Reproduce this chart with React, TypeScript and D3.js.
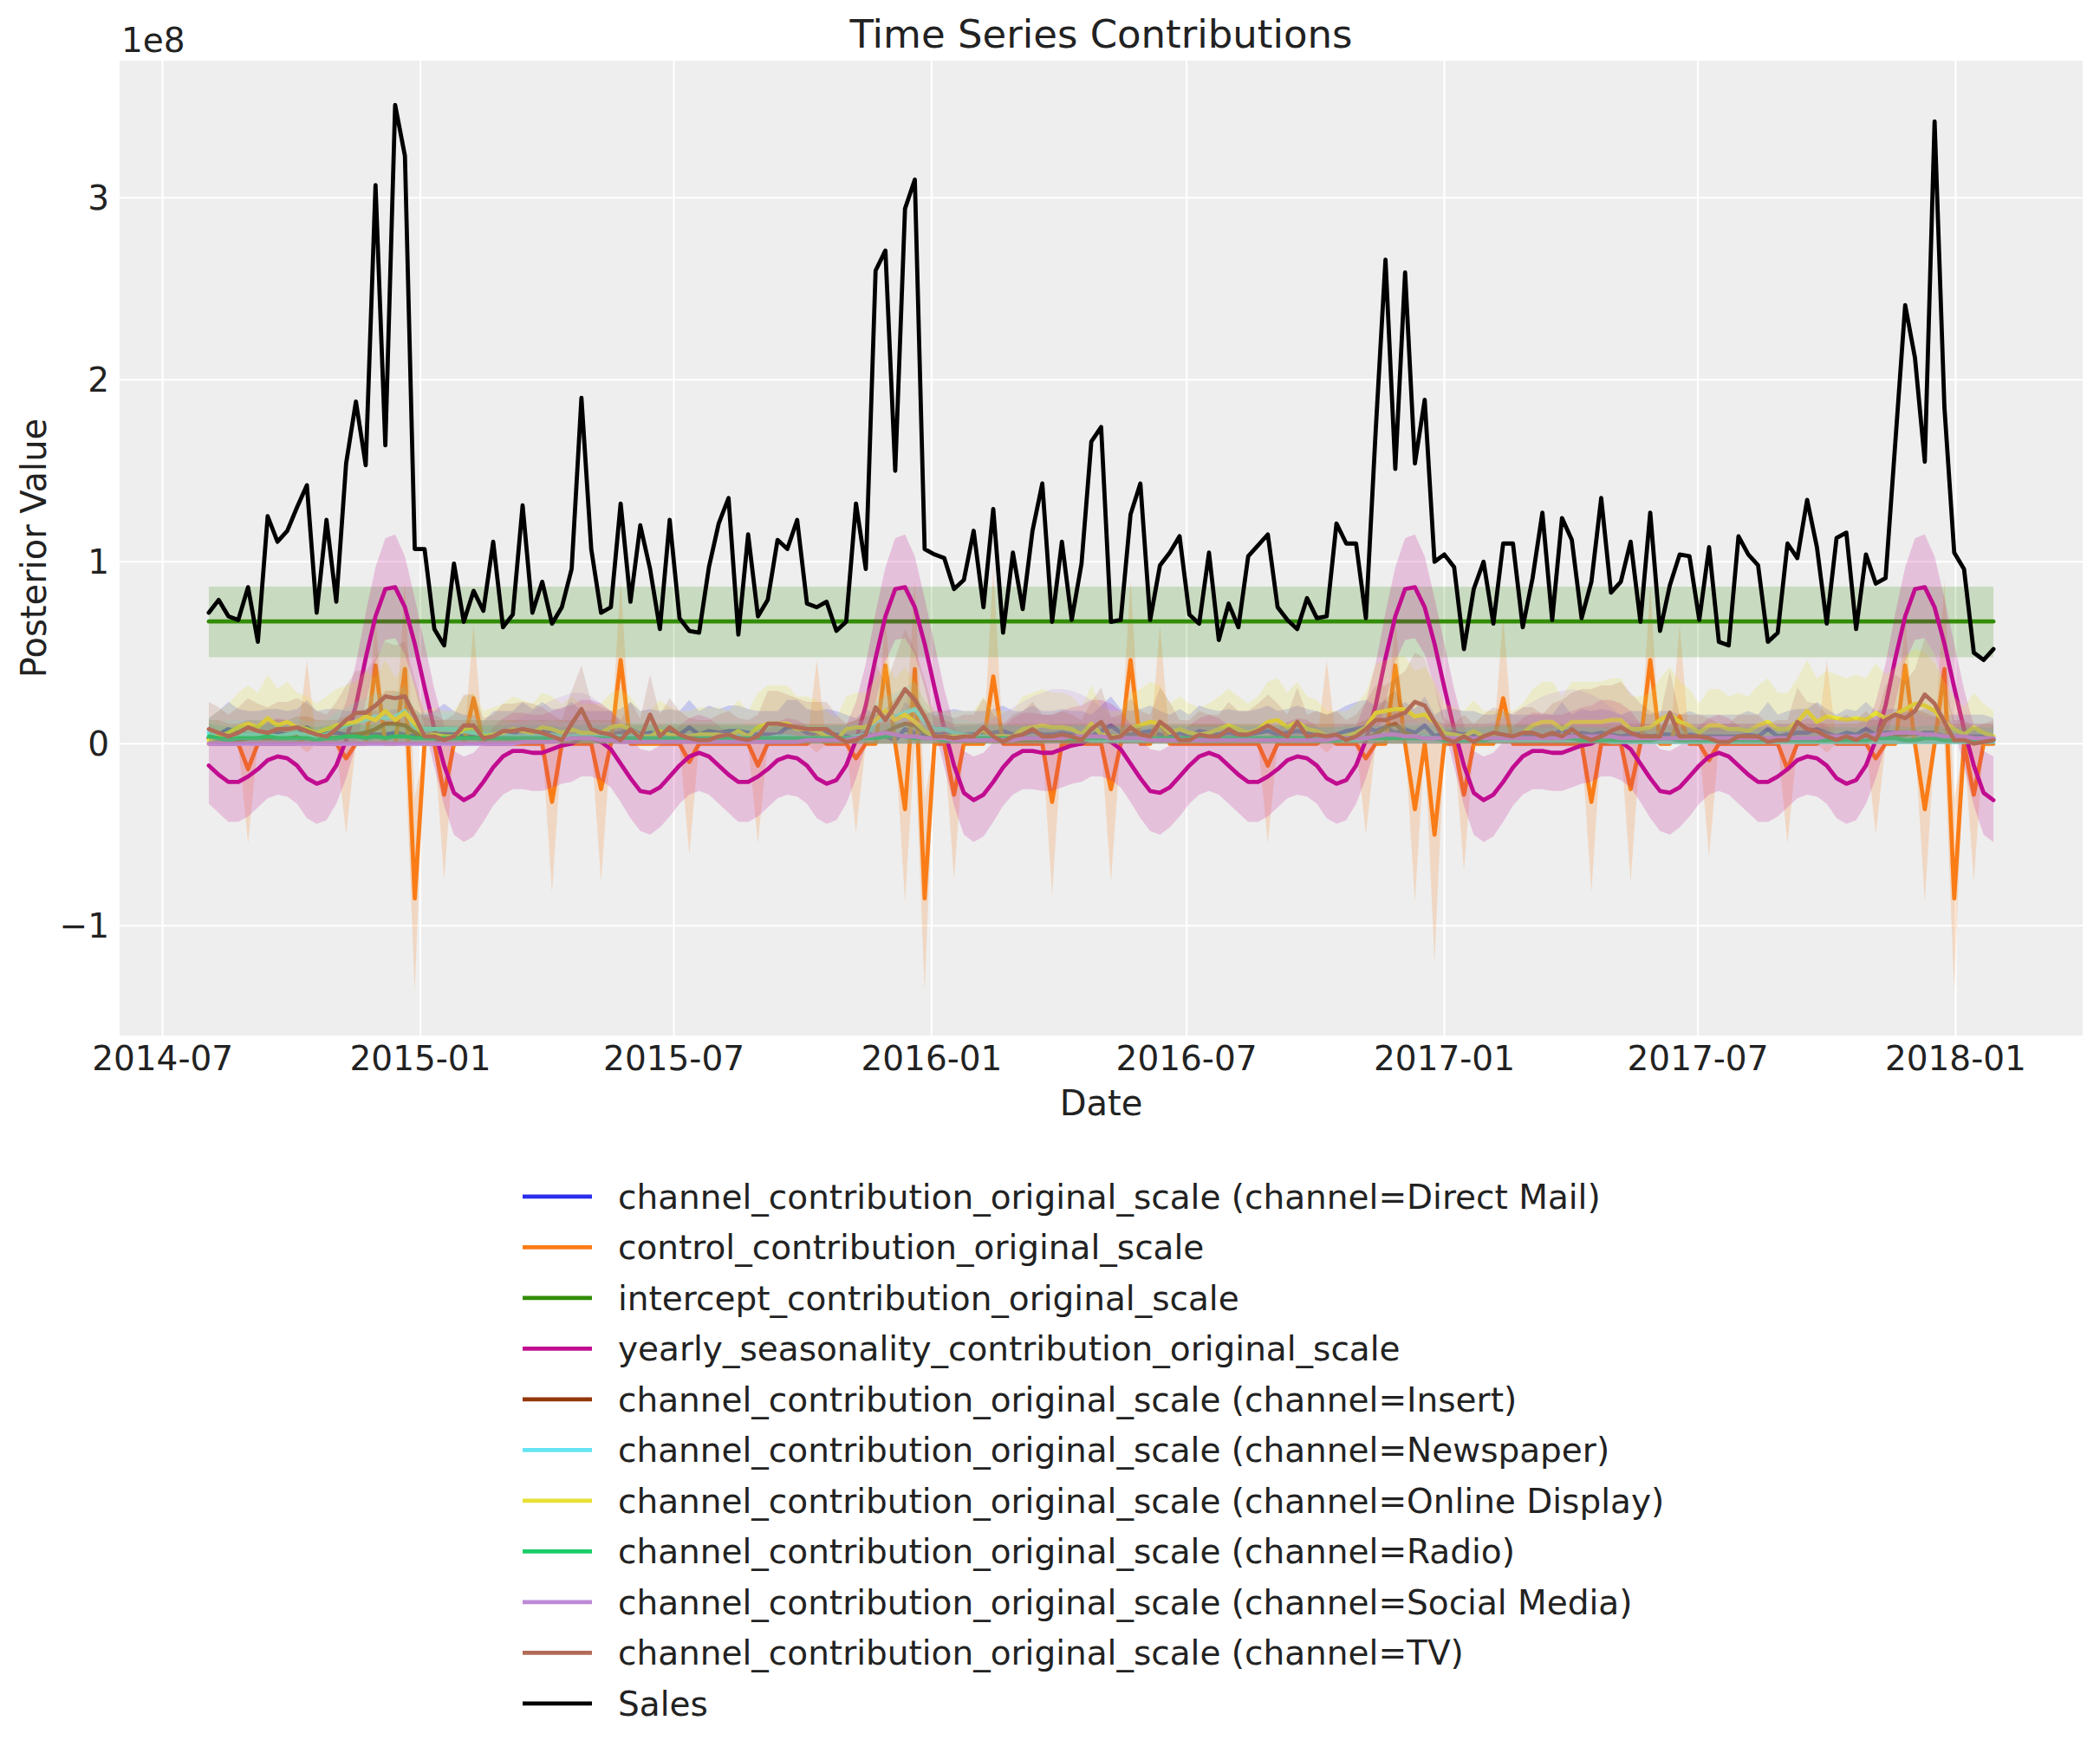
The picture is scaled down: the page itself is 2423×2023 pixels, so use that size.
import React from 'react';
import * as d3 from 'd3';

const WIDTH = 2423;
const HEIGHT = 2023;
const PLOT = { left: 138, right: 2403, top: 70, bottom: 1195 };

// weekly posterior means, all values in millions
const FIRST_WEEK = '2014-08-03';

const SALES = [
  72, 79, 70, 68, 86, 56, 125, 111, 117, 130,
  142, 72, 123, 78, 154, 188, 153, 307, 164, 351,
  323, 107, 107, 63, 54, 99, 67, 84, 73, 111,
  64, 71, 131, 72, 89, 66, 75, 96, 190, 107,
  72, 75, 132, 78, 120, 96, 63, 123, 69, 62,
  61, 97, 121, 135, 60, 115, 70, 79, 112, 107,
  123, 77, 75, 78, 62, 67, 132, 96, 260, 271,
  150, 294, 310, 107, 104, 102, 85, 90, 117, 75,
  129, 61, 105, 74, 117, 143, 67, 111, 68, 99,
  166, 174, 67, 68, 126, 143, 68, 98, 105, 114,
  71, 66, 105, 57, 77, 64, 103, 109, 115, 75,
  68, 63, 80, 69, 70, 121, 110, 110, 69, 172,
  266, 151, 259, 154, 189, 100, 104, 97, 52, 85,
  100, 66, 110, 110, 64, 91, 127, 68, 124, 112,
  69, 89, 135, 83, 89, 111, 67, 127, 62, 87,
  104, 103, 68, 108, 56, 54, 114, 104, 98, 56,
  61, 110, 102, 134, 108, 66, 113, 116, 63, 104,
  88, 91, 166, 241, 212, 155, 342, 185, 105, 96,
  50, 46, 52,
];

// hdi low, mean, hdi high
const INTERCEPT = [47.5, 67.2, 86.3];

const SEASONALITY = [
  -12, -17, -21, -21, -18, -14, -9, -7, -8, -12, -19, -22, -20, -12, 2, 21, 47, 70, 85, 86, 75, 55, 31, 8, -12, -27, -31, -28, -21, -13, -7, -4, -4, -5, -5, -3, -1, 0, 3, 3, 1, -3, -11, -19, -26, -27, -24, -18, -12, -7, -5, -7,
  -12, -17, -21, -21, -18, -14, -9, -7, -8, -12, -19, -22, -20, -12, 2, 21, 47, 70, 85, 86, 75, 55, 31, 8, -12, -27, -31, -28, -21, -13, -7, -4, -4, -5, -5, -3, -1, 0, 3, 3, 1, -3, -11, -19, -26, -27, -24, -18, -12, -7, -5, -7,
  -12, -17, -21, -21, -18, -14, -9, -7, -8, -12, -19, -22, -20, -12, 2, 21, 47, 70, 85, 86, 75, 55, 31, 8, -12, -27, -31, -28, -21, -13, -7, -4, -4, -5, -5, -3, -1, 0, 3, 3, 1, -3, -11, -19, -26, -27, -24, -18, -12, -7, -5, -7,
  -12, -17, -21, -21, -18, -14, -9, -7, -8, -12, -19, -22, -20, -12, 2, 21, 47, 70, 85, 86, 75, 55, 31, 8, -12, -27, -31,
];
const SEASONALITY_LO = [
  -33, -38, -43, -43, -40, -35, -30, -28, -29, -33, -41, -44, -42, -33, -19, -1, 23, 45, 57, 58, 49, 31, 9, -13, -34, -50, -54, -51, -43, -34, -28, -25, -25, -26, -26, -24, -22, -21, -18, -18, -20, -24, -32, -41, -48, -50, -46, -40, -33, -28, -26, -28,
  -33, -38, -43, -43, -40, -35, -30, -28, -29, -33, -41, -44, -42, -33, -19, -1, 23, 45, 57, 58, 49, 31, 9, -13, -34, -50, -54, -51, -43, -34, -28, -25, -25, -26, -26, -24, -22, -21, -18, -18, -20, -24, -32, -41, -48, -50, -46, -40, -33, -28, -26, -28,
  -33, -38, -43, -43, -40, -35, -30, -28, -29, -33, -41, -44, -42, -33, -19, -1, 23, 45, 57, 58, 49, 31, 9, -13, -34, -50, -54, -51, -43, -34, -28, -25, -25, -26, -26, -24, -22, -21, -18, -18, -20, -24, -32, -41, -48, -50, -46, -40, -33, -28, -26, -28,
  -33, -38, -43, -43, -40, -35, -30, -28, -29, -33, -41, -44, -42, -33, -19, -1, 23, 45, 57, 58, 49, 31, 9, -13, -34, -50, -54,
];
const SEASONALITY_HI = [
  10, 5, 1, 1, 4, 8, 12, 14, 13, 10, 3, 0, 2, 10, 23, 44, 72, 97, 113, 115, 103, 80, 55, 30, 10, -4, -7, -5, 1, 9, 14, 17, 17, 16, 16, 18, 20, 21, 24, 24, 22, 18, 11, 3, -3, -4, -1, 4, 10, 14, 16, 14,
  10, 5, 1, 1, 4, 8, 12, 14, 13, 10, 3, 0, 2, 10, 23, 44, 72, 97, 113, 115, 103, 80, 55, 30, 10, -4, -7, -5, 1, 9, 14, 17, 17, 16, 16, 18, 20, 21, 24, 24, 22, 18, 11, 3, -3, -4, -1, 4, 10, 14, 16, 14,
  10, 5, 1, 1, 4, 8, 12, 14, 13, 10, 3, 0, 2, 10, 23, 44, 72, 97, 113, 115, 103, 80, 55, 30, 10, -4, -7, -5, 1, 9, 14, 17, 17, 16, 16, 18, 20, 21, 24, 24, 22, 18, 11, 3, -3, -4, -1, 4, 10, 14, 16, 14,
  10, 5, 1, 1, 4, 8, 12, 14, 13, 10, 3, 0, 2, 10, 23, 44, 72, 97, 113, 115, 103, 80, 55, 30, 10, -4, -7,
];

// control (event) contribution: zero except in these weeks (index from FIRST_WEEK)
const CONTROL_WEEK = [
  4, 10, 14, 17, 20, 21, 24, 27, 35, 40, 42, 49,
  56, 62, 66, 69, 71, 72, 73, 76, 80, 86, 92, 94, 97, 108,
  114, 118, 121, 123, 125, 128, 132, 141, 145, 147, 150, 153,
  161, 165, 170, 173, 175, 177, 178, 180,
];
const CONTROL_MEAN = [
  -14, 4, -8, 43, 41, -85, -28, 25, -32, -25, 46, -10,
  -12, 4, -8, 43, -36, 41, -85, -28, 37, -32, -25, 46, 12, -12,
  4, -8, 43, -36, -50, -28, 25, -32, -25, 46, 15, -9,
  -14, 4, -8, 43, -36, 41, -85, -28,
];
const CONTROL_LO = [
  -55, -5, -50, 0, 0, -136, -75, 0, -82, -76, 0, -61,
  -55, -5, -49, 0, -87, 0, -136, -75, 0, -83, -76, 0, 0, -55,
  -5, -50, 0, -87, -120, -70, 0, -82, -76, 0, 0, -62,
  -55, -5, -50, 0, -87, 0, -136, -76,
];
const CONTROL_HI = [
  0, 46, 2, 70, 90, -30, 5, 65, 0, 0, 90, 0,
  0, 46, 2, 70, 0, 90, -30, 5, 96, 0, 0, 90, 65, 0,
  46, 2, 70, 0, 0, 5, 70, 0, 0, 86, 65, 0,
  0, 46, 2, 70, 0, 90, -30, 5,
];

// channel contributions (lower hdi edge sits on zero at this scale)
const DIRECT_MAIL = [
  3, 5, 8, 6, 5, 5, 6, 6, 5, 6, 9, 5, 6, 6, 5, 5, 6, 5, 5, 6, 5, 4, 4, 5, 5, 5, 4, 4, 2, 5, 5, 5, 8, 6, 8, 6, 6, 8, 5, 5, 5, 5, 6, 8, 5, 6, 5, 6, 5, 9, 5, 7,
  6, 7, 7, 6, 5, 5, 5, 9, 9, 6, 5, 6, 5, 4, 3, 6, 4, 4, 2, 8, 6, 4, 5, 5, 6, 5, 5, 5, 6, 7, 5, 5, 7, 5, 5, 6, 5, 5, 4, 7, 10, 6, 5, 6, 7, 5, 4, 6, 4, 7, 6, 5,
  6, 5, 5, 6, 7, 5, 6, 7, 6, 5, 4, 5, 7, 8, 9, 7, 9, 6, 8, 6, 10, 4, 6, 6, 5, 5, 4, 4, 5, 4, 4, 4, 4, 4, 8, 4, 6, 5, 6, 5, 4, 5, 5, 4, 5, 5, 4, 5, 4, 4, 4, 4,
  4, 5, 4, 8, 4, 5, 6, 6, 8, 6, 4, 6, 5, 8, 5, 6, 6, 6, 5, 6, 6, 4, 4, 4, 4, 4, 3,
];
const DIRECT_MAIL_HI = [
  14, 18, 23, 19, 18, 18, 19, 19, 18, 19, 24, 18, 19, 19, 18, 18, 19, 18, 18, 19, 18, 16, 16, 18, 22, 18, 16, 16, 12, 18, 18, 18, 23, 19, 23, 19, 19, 23, 18, 18, 18, 18, 19, 23, 18, 19, 18, 19, 18, 24, 18, 21,
  19, 21, 21, 19, 18, 18, 18, 24, 24, 19, 18, 19, 18, 16, 14, 19, 16, 16, 12, 23, 19, 16, 18, 18, 19, 18, 18, 18, 19, 21, 18, 18, 21, 18, 18, 19, 18, 18, 16, 21, 26, 19, 18, 19, 21, 18, 16, 19, 16, 21, 19, 18,
  19, 18, 18, 19, 21, 18, 19, 21, 19, 18, 16, 18, 21, 23, 24, 21, 24, 19, 23, 19, 26, 16, 19, 19, 18, 18, 16, 16, 18, 16, 16, 16, 16, 16, 23, 16, 19, 18, 19, 18, 16, 18, 18, 16, 18, 18, 16, 18, 16, 16, 16, 16,
  16, 18, 16, 23, 16, 18, 19, 19, 23, 19, 16, 19, 18, 23, 18, 19, 19, 19, 18, 19, 19, 16, 16, 16, 16, 16, 14,
];
const INSERT = [
  3, 3, 2, 2, 3, 3, 3, 3, 3, 4, 4, 3, 3, 3, 4, 5, 6, 8, 11, 11, 10, 6, 4, 3, 3, 3, 3, 3, 3, 3, 3, 3, 3, 3, 3, 3, 3, 3, 3, 3, 3, 3, 2, 2, 2, 2, 2, 2, 2, 2, 2, 2,
  2, 2, 2, 2, 2, 2, 2, 2, 2, 2, 2, 2, 2, 2, 3, 4, 5, 6, 9, 11, 10, 6, 4, 3, 2, 2, 2, 2, 2, 2, 2, 2, 2, 2, 2, 2, 2, 2, 2, 2, 2, 2, 2, 2, 2, 2, 2, 2, 2, 2, 2, 2,
  2, 2, 2, 2, 2, 2, 2, 2, 2, 2, 2, 2, 2, 2, 3, 5, 9, 11, 6, 4, 4, 3, 2, 2, 2, 2, 2, 2, 2, 2, 2, 2, 2, 2, 2, 2, 2, 2, 2, 2, 2, 2, 2, 2, 2, 2, 2, 2, 2, 2, 2, 2,
  2, 2, 2, 2, 2, 2, 2, 2, 2, 2, 2, 2, 2, 3, 3, 4, 5, 5, 6, 5, 4, 3, 2, 2, 2, 2, 2,
];
const INSERT_HI = [
  13, 13, 11, 11, 13, 13, 13, 13, 13, 15, 15, 13, 13, 13, 15, 17, 19, 23, 29, 29, 27, 19, 15, 13, 13, 13, 13, 13, 13, 13, 13, 13, 13, 13, 13, 13, 13, 13, 13, 13, 13, 13, 11, 11, 11, 11, 11, 11, 11, 11, 11, 11,
  11, 11, 11, 11, 11, 11, 11, 11, 11, 11, 11, 11, 11, 11, 13, 15, 17, 19, 25, 29, 27, 19, 15, 13, 11, 11, 11, 11, 11, 11, 11, 11, 11, 11, 11, 11, 11, 11, 11, 11, 11, 11, 11, 11, 11, 11, 11, 11, 11, 11, 11, 11,
  11, 11, 11, 11, 11, 11, 11, 11, 11, 11, 11, 11, 11, 11, 13, 17, 25, 29, 19, 15, 15, 13, 11, 11, 11, 11, 11, 11, 11, 11, 11, 11, 11, 11, 11, 11, 11, 11, 11, 11, 11, 11, 11, 11, 11, 11, 11, 11, 11, 11, 11, 11,
  11, 11, 11, 11, 11, 11, 11, 11, 11, 11, 11, 11, 11, 13, 13, 15, 17, 17, 19, 17, 15, 13, 11, 11, 11, 11, 11,
];
const NEWSPAPER = [
  6, 4, 5, 5, 5, 5, 5, 4, 5, 6, 4, 4, 5, 8, 10, 12, 13, 15, 14, 15, 18, 9, 8, 8, 8, 8, 7, 6, 5, 5, 5, 4, 4, 5, 4, 5, 4, 4, 5, 4, 4, 4, 4, 4, 4, 4, 3, 4, 4, 4, 4, 4,
  4, 4, 4, 3, 3, 3, 4, 4, 3, 3, 3, 3, 3, 3, 4, 5, 12, 14, 15, 17, 19, 12, 8, 8, 6, 5, 4, 4, 3, 3, 3, 3, 3, 3, 3, 3, 3, 3, 2, 2, 2, 2, 2, 2, 2, 2, 2, 2, 2, 2, 2, 2,
  2, 2, 2, 2, 2, 2, 2, 2, 2, 2, 2, 2, 2, 2, 3, 3, 3, 3, 4, 4, 4, 3, 2, 2, 2, 2, 2, 2, 2, 2, 2, 2, 2, 2, 2, 2, 2, 2, 2, 1, 1, 1, 1, 1, 1, 1, 1, 1, 1, 1, 1, 1,
  1, 1, 1, 1, 1, 1, 1, 1, 1, 1, 1, 1, 1, 1, 1, 1, 1, 1, 1, 1, 1, 1, 1, 1, 1, 1, 1,
];
const NEWSPAPER_HI = [
  14, 12, 13, 13, 13, 13, 13, 12, 13, 14, 12, 12, 13, 17, 20, 23, 25, 28, 26, 28, 32, 18, 17, 17, 17, 17, 15, 14, 13, 13, 13, 12, 12, 13, 12, 13, 12, 12, 13, 12, 12, 12, 12, 12, 12, 12, 10, 12, 12, 12, 12, 12,
  12, 12, 12, 10, 10, 10, 12, 12, 10, 10, 10, 10, 10, 10, 12, 13, 23, 26, 28, 31, 34, 23, 17, 17, 14, 13, 12, 12, 10, 10, 10, 10, 10, 10, 10, 10, 10, 10, 9, 9, 9, 9, 9, 9, 9, 9, 9, 9, 9, 9, 9, 9,
  9, 9, 9, 9, 9, 9, 9, 9, 9, 9, 9, 9, 9, 9, 10, 10, 10, 10, 12, 12, 12, 10, 9, 9, 9, 9, 9, 9, 9, 9, 9, 9, 9, 9, 9, 9, 9, 9, 9, 7, 7, 7, 7, 7, 7, 7, 7, 7, 7, 7, 7, 7,
  7, 7, 7, 7, 7, 7, 7, 7, 7, 7, 7, 7, 7, 7, 7, 7, 7, 7, 7, 7, 7, 7, 7, 7, 7, 7, 7,
];
const ONLINE_DISPLAY = [
  2, 4, 6, 9, 11, 9, 14, 10, 12, 9, 8, 6, 8, 10, 11, 12, 15, 13, 18, 13, 17, 11, 4, 5, 4, 4, 8, 9, 4, 5, 6, 8, 7, 6, 9, 8, 6, 8, 6, 6, 6, 9, 10, 8, 4, 4, 7, 5, 4, 4, 5, 5,
  5, 4, 7, 4, 9, 11, 11, 11, 8, 8, 7, 4, 2, 8, 9, 9, 13, 18, 13, 16, 12, 7, 4, 4, 4, 4, 4, 8, 4, 4, 4, 8, 9, 10, 9, 9, 8, 5, 11, 5, 4, 4, 9, 10, 12, 11, 6, 8, 6, 5, 6, 8,
  10, 8, 6, 8, 12, 13, 9, 12, 8, 7, 4, 4, 4, 6, 9, 17, 18, 19, 19, 15, 16, 12, 6, 5, 4, 7, 4, 4, 4, 4, 6, 10, 12, 12, 8, 12, 12, 12, 12, 13, 13, 8, 8, 9, 13, 16, 12, 10, 6, 10, 10, 8,
  8, 7, 10, 12, 8, 8, 12, 18, 12, 15, 14, 13, 14, 13, 17, 14, 16, 19, 22, 21, 18, 12, 8, 5, 9, 6, 4,
];
const ONLINE_DISPLAY_HI = [
  14, 18, 22, 28, 32, 28, 38, 30, 34, 28, 26, 22, 26, 30, 32, 34, 40, 36, 46, 36, 44, 32, 18, 20, 18, 18, 26, 28, 18, 20, 22, 26, 24, 22, 28, 26, 22, 26, 22, 22, 22, 28, 30, 26, 18, 18, 24, 20, 18, 18, 20, 20,
  20, 18, 24, 18, 28, 32, 32, 32, 26, 26, 24, 18, 14, 26, 28, 28, 36, 46, 36, 42, 34, 24, 18, 18, 18, 18, 18, 26, 18, 18, 18, 26, 28, 30, 28, 28, 26, 20, 32, 20, 18, 18, 28, 30, 34, 32, 22, 26, 22, 20, 22, 26,
  30, 26, 22, 26, 34, 36, 28, 34, 26, 24, 18, 18, 18, 22, 28, 44, 46, 48, 48, 40, 42, 34, 22, 20, 18, 24, 18, 18, 18, 18, 22, 30, 34, 34, 26, 34, 34, 34, 34, 36, 36, 26, 26, 28, 36, 42, 34, 30, 22, 30, 30, 26,
  28, 26, 32, 36, 28, 28, 36, 46, 36, 40, 38, 36, 38, 36, 44, 38, 42, 48, 52, 50, 44, 34, 26, 20, 28, 22, 18,
];
const RADIO = [
  4, 3, 2, 3, 3, 3, 4, 3, 3, 3, 3, 2, 3, 3, 4, 4, 3, 4, 3, 4, 4, 3, 3, 3, 3, 3, 3, 3, 3, 3, 3, 3, 3, 3, 3, 3, 2, 3, 3, 3, 3, 3, 3, 3, 3, 3, 3, 3, 3, 3, 3, 3,
  3, 3, 3, 3, 3, 3, 3, 3, 3, 3, 3, 3, 3, 3, 3, 3, 3, 4, 5, 4, 3, 3, 3, 2, 2, 3, 3, 3, 3, 3, 3, 3, 3, 3, 3, 3, 3, 3, 3, 3, 3, 3, 3, 3, 3, 3, 3, 3, 3, 3, 3, 3,
  3, 3, 3, 3, 3, 3, 3, 3, 3, 2, 2, 2, 3, 3, 3, 3, 3, 3, 3, 3, 3, 3, 2, 2, 2, 2, 2, 3, 3, 3, 3, 3, 3, 3, 3, 3, 2, 2, 2, 2, 2, 2, 2, 2, 3, 3, 2, 2, 2, 2, 2, 2,
  2, 2, 2, 2, 2, 2, 2, 2, 2, 2, 2, 2, 2, 2, 3, 3, 3, 2, 2, 3, 3, 2, 2, 2, 2, 2, 2,
];
const RADIO_HI = [
  11, 10, 9, 10, 10, 10, 11, 10, 10, 10, 10, 9, 10, 10, 11, 11, 10, 11, 10, 11, 11, 10, 10, 10, 10, 10, 10, 10, 10, 10, 10, 10, 10, 10, 10, 10, 9, 10, 10, 10, 10, 10, 10, 10, 10, 10, 10, 10, 10, 10, 10, 10,
  10, 10, 10, 10, 10, 10, 10, 10, 10, 10, 10, 10, 10, 10, 10, 10, 10, 11, 12, 11, 10, 10, 10, 9, 9, 10, 10, 10, 10, 10, 10, 10, 10, 10, 10, 10, 10, 10, 10, 10, 10, 10, 10, 10, 10, 10, 10, 10, 10, 10, 10, 10,
  10, 10, 10, 10, 10, 10, 10, 10, 10, 9, 9, 9, 10, 10, 10, 10, 10, 10, 10, 10, 10, 10, 9, 9, 9, 9, 9, 10, 10, 10, 10, 10, 10, 10, 10, 10, 9, 9, 9, 9, 9, 9, 9, 9, 10, 10, 9, 9, 9, 9, 9, 9,
  9, 9, 9, 9, 9, 9, 9, 9, 9, 9, 9, 9, 9, 9, 10, 10, 10, 9, 9, 10, 10, 9, 9, 9, 9, 9, 9,
];
const SOCIAL_MEDIA = [
  0, 0, 0, 0, 0, 0, 0, 0, 0, 0, 0, 0, 0, 0, 0, 0, 0, 0, 0, 0, 0, 0, 0, 0, 0, 0, 0, 0, 0, 0, 0, 0, 1, 1, 1, 1, 2, 3, 3, 3, 2, 2, 1, 1, 1, 1, 1, 1, 1, 1, 1, 1,
  1, 1, 1, 1, 1, 1, 1, 1, 1, 2, 2, 2, 2, 2, 3, 4, 5, 6, 5, 4, 4, 3, 3, 3, 2, 2, 2, 2, 2, 2, 2, 3, 3, 3, 3, 3, 4, 4, 4, 4, 3, 3, 3, 3, 2, 2, 2, 2, 2, 2, 2, 2,
  2, 2, 2, 2, 2, 2, 2, 2, 2, 2, 2, 3, 3, 3, 3, 4, 5, 5, 4, 4, 3, 3, 3, 3, 3, 3, 3, 3, 3, 3, 3, 3, 3, 3, 3, 4, 4, 4, 4, 4, 3, 3, 3, 3, 3, 3, 3, 3, 3, 3, 3, 3,
  3, 3, 3, 3, 3, 3, 3, 3, 3, 4, 4, 4, 4, 4, 5, 5, 6, 6, 6, 5, 5, 4, 4, 4, 3, 3, 3,
];
const SOCIAL_MEDIA_HI = [
  3, 3, 3, 3, 3, 3, 3, 3, 3, 3, 3, 3, 3, 3, 3, 3, 3, 3, 3, 3, 3, 3, 3, 3, 3, 3, 3, 3, 4, 6, 9, 12, 15, 18, 21, 24, 26, 28, 28, 26, 22, 18, 13, 9, 7, 6, 6, 6, 6, 6, 6, 6,
  7, 7, 7, 7, 7, 7, 7, 8, 8, 9, 9, 10, 10, 10, 12, 14, 16, 18, 16, 14, 13, 12, 12, 12, 10, 10, 10, 12, 14, 17, 20, 23, 26, 28, 30, 30, 29, 27, 24, 20, 16, 13, 11, 10, 9, 9, 9, 9, 9, 9, 9, 9,
  9, 9, 9, 9, 9, 9, 9, 9, 9, 9, 9, 11, 11, 11, 11, 13, 15, 15, 13, 13, 11, 11, 11, 11, 11, 11, 11, 12, 14, 17, 20, 23, 26, 28, 29, 30, 29, 27, 24, 20, 16, 13, 12, 11, 11, 11, 11, 11, 11, 11, 11, 11,
  11, 11, 11, 11, 11, 11, 11, 11, 11, 13, 13, 13, 13, 13, 15, 15, 17, 17, 17, 15, 15, 13, 13, 13, 11, 11, 11,
];
const TV = [
  8, 6, 4, 6, 9, 7, 6, 8, 8, 9, 7, 5, 4, 8, 13, 17, 17, 21, 26, 25, 26, 15, 4, 4, 2, 4, 10, 10, 3, 4, 7, 7, 8, 7, 6, 4, 2, 11, 19, 8, 6, 5, 2, 8, 3, 16, 4, 9, 5, 3, 2, 2,
  4, 5, 3, 2, 4, 11, 11, 10, 9, 8, 8, 8, 4, 1, 2, 5, 20, 13, 21, 30, 24, 15, 4, 4, 3, 4, 4, 9, 4, 1, 4, 5, 8, 4, 4, 5, 4, 2, 8, 12, 3, 4, 9, 5, 4, 12, 8, 2, 2, 5, 4, 4,
  8, 5, 5, 7, 10, 7, 4, 12, 4, 5, 4, 5, 2, 4, 8, 13, 13, 15, 17, 23, 21, 12, 3, 1, 4, 1, 4, 6, 5, 4, 6, 6, 4, 6, 4, 8, 4, 2, 4, 7, 9, 6, 4, 4, 4, 17, 4, 4, 4, 3, 1, 1,
  4, 4, 4, 1, 2, 2, 12, 8, 7, 4, 2, 4, 2, 5, 2, 13, 16, 14, 18, 27, 22, 12, 2, 2, 0, 1, 2,
];
const TV_HI = [
  23, 20, 16, 20, 25, 22, 20, 23, 23, 25, 22, 18, 16, 23, 32, 40, 40, 47, 56, 54, 56, 36, 16, 16, 13, 16, 27, 27, 14, 16, 22, 22, 23, 22, 20, 16, 13, 29, 43, 23, 20, 18, 13, 23, 14, 38, 16, 25, 18, 14, 13, 13,
  16, 18, 14, 13, 16, 29, 29, 27, 25, 23, 23, 23, 16, 11, 13, 18, 45, 32, 47, 63, 52, 36, 16, 16, 14, 16, 16, 25, 16, 11, 16, 18, 23, 16, 16, 18, 16, 13, 23, 31, 14, 16, 25, 18, 16, 31, 23, 13, 13, 18, 16, 16,
  23, 18, 18, 22, 27, 22, 16, 31, 16, 18, 16, 18, 13, 16, 23, 32, 32, 36, 40, 50, 47, 31, 14, 11, 16, 11, 16, 20, 18, 16, 20, 20, 16, 22, 24, 28, 30, 30, 32, 32, 34, 28, 22, 18, 16, 40, 16, 16, 16, 14, 11, 11,
  16, 16, 16, 11, 13, 13, 31, 23, 22, 16, 13, 16, 13, 18, 13, 32, 38, 34, 41, 58, 49, 31, 13, 13, 9, 11, 13,
];

const Y_TICKS = [-100, 0, 100, 200, 300];
const TEXT = '#222222';
const FONT = 'DejaVu Sans, sans-serif';
const LINE_W = 4.8;

export default function App() {
  const n = SALES.length;
  const start = d3.timeParse('%Y-%m-%d')(FIRST_WEEK) as Date;
  const weeks = d3.range(n).map((i) => d3.timeWeek.offset(start, i));
  const zeros = weeks.map(() => 0);
  const fromEvents = (vals: number[]) =>
    weeks.map((_, i) => {
      const j = CONTROL_WEEK.indexOf(i);
      return j < 0 ? 0 : vals[j];
    });

  const series = [
    { label: 'channel_contribution_original_scale (channel=Direct Mail)', color: '#2a2eec', mean: DIRECT_MAIL, lo: zeros, hi: DIRECT_MAIL_HI },
    { label: 'control_contribution_original_scale', color: '#fa7c17', mean: fromEvents(CONTROL_MEAN), lo: fromEvents(CONTROL_LO), hi: fromEvents(CONTROL_HI) },
    { label: 'intercept_contribution_original_scale', color: '#328c06', mean: weeks.map(() => INTERCEPT[1]), lo: weeks.map(() => INTERCEPT[0]), hi: weeks.map(() => INTERCEPT[2]) },
    { label: 'yearly_seasonality_contribution_original_scale', color: '#c10c90', mean: SEASONALITY, lo: SEASONALITY_LO, hi: SEASONALITY_HI },
    { label: 'channel_contribution_original_scale (channel=Insert)', color: '#933708', mean: INSERT, lo: zeros, hi: INSERT_HI },
    { label: 'channel_contribution_original_scale (channel=Newspaper)', color: '#65e5f3', mean: NEWSPAPER, lo: zeros, hi: NEWSPAPER_HI },
    { label: 'channel_contribution_original_scale (channel=Online Display)', color: '#e6e135', mean: ONLINE_DISPLAY, lo: zeros, hi: ONLINE_DISPLAY_HI },
    { label: 'channel_contribution_original_scale (channel=Radio)', color: '#1ccd6a', mean: RADIO, lo: zeros, hi: RADIO_HI },
    { label: 'channel_contribution_original_scale (channel=Social Media)', color: '#bd8ad5', mean: SOCIAL_MEDIA, lo: zeros, hi: SOCIAL_MEDIA_HI },
    { label: 'channel_contribution_original_scale (channel=TV)', color: '#b16b57', mean: TV, lo: zeros, hi: TV_HI },
  ];

  const allLo = series.flatMap((s) => s.lo).concat(SALES);
  const allHi = series.flatMap((s) => s.hi).concat(SALES);
  const yMin = d3.min(allLo) as number;
  const yMax = d3.max(allHi) as number;
  const yPad = (yMax - yMin) * 0.05;
  const y = d3.scaleLinear().domain([yMin - yPad, yMax + yPad]).range([PLOT.bottom, PLOT.top]);

  const t0 = +weeks[0];
  const t1 = +weeks[n - 1];
  const tPad = (t1 - t0) * 0.05;
  const x = d3.scaleTime().domain([new Date(t0 - tPad), new Date(t1 + tPad)]).range([PLOT.left, PLOT.right]);
  const xTicks = x.ticks(d3.timeMonth.every(6) as d3.TimeInterval);
  const fmt = d3.timeFormat('%Y-%m');

  const line = d3.line<number>().x((_, i) => x(weeks[i])).y((d) => y(d));
  const area = (lo: number[], hi: number[]) =>
    d3.area<number>().x((_, i) => x(weeks[i])).y0((d) => y(d)).y1((_, i) => y(hi[i]))(lo) as string;

  const legend = [...series.map((s) => ({ label: s.label, color: s.color })), { label: 'Sales', color: '#000000' }];

  return (
    <svg width={WIDTH} height={HEIGHT} style={{ position: 'absolute', left: 0, top: 0 }} fontFamily={FONT}>
      <rect width={WIDTH} height={HEIGHT} fill="#ffffff" />
      <defs>
        <clipPath id="plot-clip">
          <rect x={PLOT.left} y={PLOT.top} width={PLOT.right - PLOT.left} height={PLOT.bottom - PLOT.top} />
        </clipPath>
      </defs>
      <rect x={PLOT.left} y={PLOT.top} width={PLOT.right - PLOT.left} height={PLOT.bottom - PLOT.top} fill="#eeeeee" />

      {/* grid */}
      <g stroke="#ffffff" strokeWidth={2.2}>
        {xTicks.map((t) => (
          <line key={+t} x1={x(t)} x2={x(t)} y1={PLOT.top} y2={PLOT.bottom} />
        ))}
        {Y_TICKS.map((v) => (
          <line key={v} x1={PLOT.left} x2={PLOT.right} y1={y(v)} y2={y(v)} />
        ))}
      </g>

      <g clipPath="url(#plot-clip)">
        {series.map((s) => (
          <g key={s.label}>
            <path d={area(s.lo, s.hi)} fill={s.color} fillOpacity={0.2} stroke="none" />
            <path d={line(s.mean) as string} fill="none" stroke={s.color} strokeWidth={LINE_W} strokeLinejoin="round" strokeLinecap="round" />
          </g>
        ))}
        <path d={line(SALES) as string} fill="none" stroke="#000000" strokeWidth={LINE_W} strokeLinejoin="round" strokeLinecap="round" />
      </g>

      {/* y axis */}
      <g fill={TEXT} fontSize={39} textAnchor="end">
        {Y_TICKS.map((v) => (
          <text key={v} x={126} y={y(v)} dy="0.36em">
            {v < 0 ? `\u2212${Math.abs(v / 100)}` : `${v / 100}`}
          </text>
        ))}
      </g>
      <text x={140} y={60} fontSize={39} fill={TEXT}>1e8</text>
      <text transform={`translate(53, ${(PLOT.top + PLOT.bottom) / 2}) rotate(-90)`} textAnchor="middle" fontSize={40} fill={TEXT}>
        Posterior Value
      </text>

      {/* x axis */}
      <g fill={TEXT} fontSize={39} textAnchor="middle">
        {xTicks.map((t) => (
          <text key={+t} x={x(t)} y={1235}>{fmt(t)}</text>
        ))}
      </g>
      <text x={(PLOT.left + PLOT.right) / 2} y={1287} textAnchor="middle" fontSize={40} fill={TEXT}>Date</text>

      <text x={(PLOT.left + PLOT.right) / 2} y={55} textAnchor="middle" fontSize={45} fill={TEXT}>
        Time Series Contributions
      </text>

      {/* legend */}
      <g>
        {legend.map((d, i) => {
          const cy = 1380.8 + i * 58.5;
          return (
            <g key={d.label}>
              <line x1={603} x2={683} y1={cy} y2={cy} stroke={d.color} strokeWidth={LINE_W} />
              <text x={713} y={cy + 14} fontSize={39} fill={TEXT}>{d.label}</text>
            </g>
          );
        })}
      </g>
    </svg>
  );
}
